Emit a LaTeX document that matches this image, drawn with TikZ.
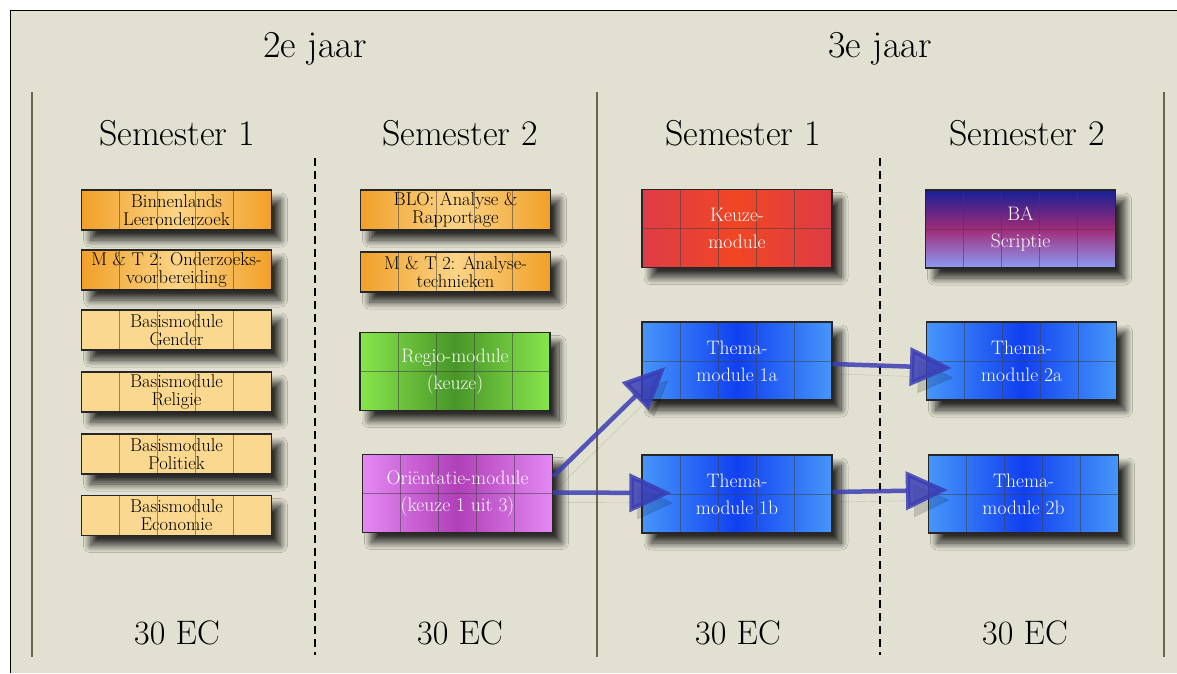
\documentclass[tikz,border=0pt]{standalone}
\usepackage{fontspec}
\usepackage{tikz}
\usetikzlibrary{positioning,calc,arrows.meta,shadows.blur}

\definecolor{papier}{RGB}{226,224,209}
\definecolor{lijnkleur}{RGB}{108,102,80}
\definecolor{oranje}{RGB}{241,160,40}
\definecolor{lichtoranje}{RGB}{251,212,135}
\definecolor{geel}{RGB}{251,216,143}
\definecolor{roodrand}{RGB}{222,60,70}
\definecolor{rood}{RGB}{240,70,36}
\definecolor{blauwrand}{RGB}{70,150,250}
\definecolor{blauw}{RGB}{16,64,240}
\definecolor{groenrand}{RGB}{136,230,76}
\definecolor{groen}{RGB}{72,150,40}
\definecolor{paarsrand}{RGB}{228,136,244}
\definecolor{paars}{RGB}{176,64,184}
\definecolor{nachtblauw}{RGB}{22,32,150}
\definecolor{magenta}{RGB}{160,44,120}
\definecolor{lichtblauw}{RGB}{140,156,246}
\definecolor{pijlblauw}{RGB}{58,62,180}

\begin{document}
\begin{tikzpicture}
	[ x=1pt, y=-1pt,
	  titel/.style={ anchor=base, font=\fontsize{38}{40}\selectfont },
	  kop/.style={ anchor=base, font=\fontsize{36}{40}\selectfont },
	  scheiding/.style={ draw=lijnkleur, line width=2.6pt },
	  stippel/.style={ draw=black, line width=2.4pt, dash pattern=on 8pt off 5pt },
	  rasterlijn/.style={ draw=black!75, line width=0.8pt, opacity=0.55 },
	  vak/.style={ draw=black!85, line width=1.3pt, inner sep=0pt, align=center,
	    minimum width=190pt, minimum height=40pt,
	    font=\fontsize{18.5}{18}\selectfont,
	    blur shadow={shadow xshift=9pt, shadow yshift=-10pt, shadow blur radius=7pt,
	      shadow blur steps=16, shadow opacity=80},
	    path picture={
	      \foreach \k in {1,...,4}{
	        \draw[rasterlijn] ($(path picture bounding box.north west)!\k/5!(path picture bounding box.north east)$)
	          -- ($(path picture bounding box.south west)!\k/5!(path picture bounding box.south east)$);
	      }
	    } },
	  grootvak/.style={ vak, minimum height=78pt, text=white,
	    font=\fontsize{19.5}{27}\selectfont,
	    postaction={ path picture={
	      \draw[rasterlijn] (path picture bounding box.west) -- (path picture bounding box.east);
	    } } },
	  oranjevak/.style={ vak, left color=oranje, right color=oranje, middle color=lichtoranje },
	  geelvak/.style={ vak, fill=geel },
	  roodvak/.style={ grootvak, left color=roodrand, right color=roodrand, middle color=rood },
	  blauwvak/.style={ grootvak, left color=blauwrand, right color=blauwrand, middle color=blauw },
	  groenvak/.style={ grootvak, left color=groenrand, right color=groenrand, middle color=groen },
	  paarsvak/.style={ grootvak, left color=paarsrand, right color=paarsrand, middle color=paars },
	  scriptievak/.style={ grootvak, top color=nachtblauw, bottom color=lichtblauw, middle color=magenta },
	  pijl/.style={ draw=pijlblauw, line width=4.5pt, opacity=0.85,
	    -{Triangle[length=42pt, width=38pt]},
	    preaction={ draw=black, opacity=0.15, transform canvas={shift={(6pt,-10pt)}} } }
	]
	\useasboundingbox (0,0) rectangle (1177,673);
	\fill[white] (0,0) rectangle (1177,673);
	\fill[papier] (10,10) rectangle (1177,673);
	\draw[black, line width=1pt] (10,673) -- (10,10) -- (1177,10);

	% kolommen
	\foreach \x in {32,597,1164}{
		\draw[scheiding] (\x,92) -- (\x,657);
	}
	\foreach \x in {315,880}{
		\draw[stippel] (\x,158) -- (\x,655);
	}

	\node[titel] (jaar2) at (315,57) {2e jaar};
	\node[titel] (jaar3) at (880,57) {3e jaar};
	\foreach \x/\t/\n in {177/Semester 1/sema, 460/Semester 2/semb, 743/Semester 1/semc, 1027/Semester 2/semd}{
		\node[kop] (\n) at (\x,145) {\t};
	}
	\foreach \x/\n in {177/eca, 460/ecb, 738/ecc, 1025/ecd}{
		\node[kop, font=\fontsize{34}{40}\selectfont] (\n) at (\x,644) {30 EC};
	}

	% 2e jaar, semester 1
	\node[oranjevak] (blo)  at (176.5,210)   {Binnenlands\\Leeronderzoek};
	\node[oranjevak] (mtoz) at (176.5,270)   {M \& T 2: Onderzoeks-\\voorbereiding};
	\node[geelvak]   (gen)  at (176.5,330)   {Basismodule\\Gender};
	\node[geelvak]   (rel)  at (176.5,392)   {Basismodule\\Religie};
	\node[geelvak]   (pol)  at (176.5,454)   {Basismodule\\Politiek};
	\node[geelvak]   (eco)  at (176.5,515.5) {Basismodule\\Economie};

	% 2e jaar, semester 2
	\node[oranjevak] (bloar) at (455.5,210) {BLO: Analyse \&\\Rapportage};
	\node[oranjevak] (mtan)  at (455.5,272) {M \& T 2: Analyse-\\technieken};
	\node[groenvak]  (regio) at (455,371.5) {Regio-module\\(keuze)};
	\node[paarsvak]  (ori)   at (457.5,493.5) {Oriëntatie-module\\(keuze 1 uit 3)};

	% 3e jaar
	\node[roodvak]     (keuze) at (737,228.5)  {Keuze-\\module};
	\node[blauwvak]    (t1a)   at (737,361)    {Thema-\\module 1a};
	\node[blauwvak]    (t1b)   at (737,494)    {Thema-\\module 1b};
	\node[scriptievak] (ba)    at (1020.5,229) {BA\\Scriptie};
	\node[blauwvak]    (t2a)   at (1021.5,361) {Thema-\\module 2a};
	\node[blauwvak]    (t2b)   at (1023.5,494) {Thema-\\module 2b};

	\draw[pijl] ([yshift=17pt]ori.east) -- ([xshift=24pt,yshift=-6pt]t1a.west);
	\draw[pijl] ([yshift=1pt]ori.east) -- ([xshift=30pt,yshift=1pt]t1b.west);
	\draw[pijl] ([yshift=-3pt]t1a.east) -- ([xshift=26pt,yshift=-7pt]t2a.west);
	\draw[pijl] ([yshift=2pt]t1b.east) -- ([xshift=20pt,yshift=4pt]t2b.west);
\end{tikzpicture}
\end{document}
